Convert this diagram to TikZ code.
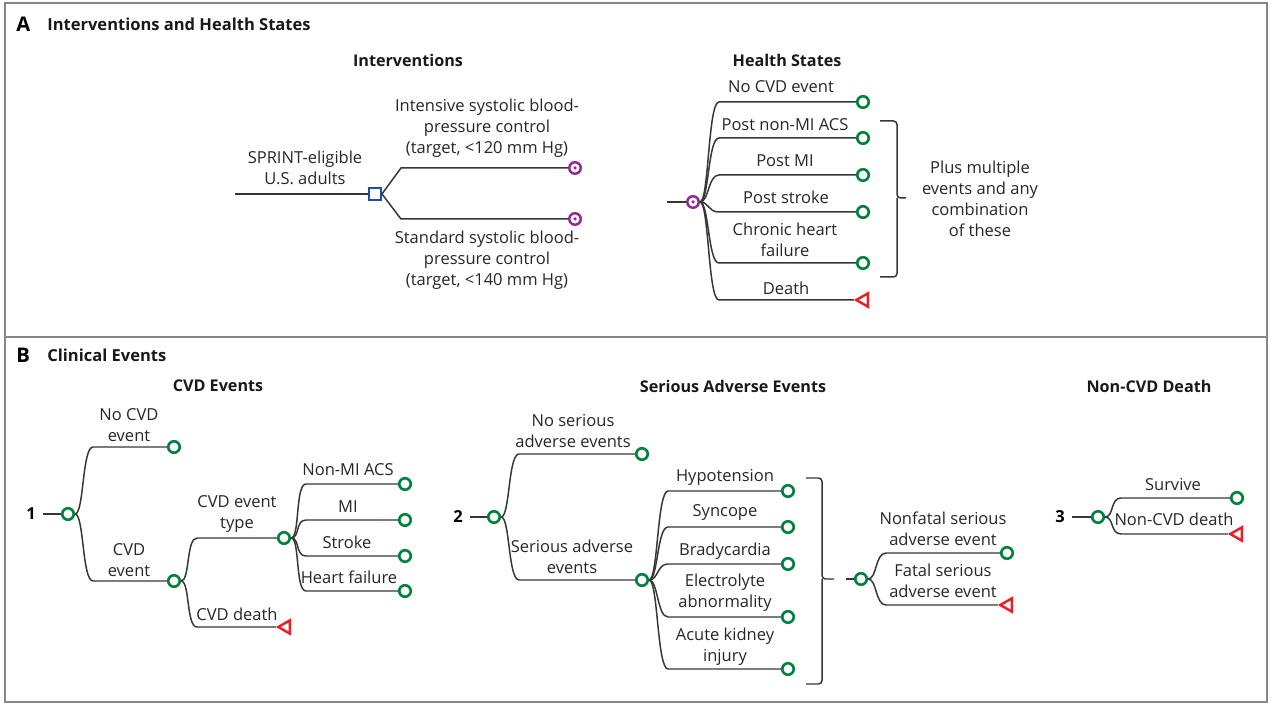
\documentclass[tikz,border=0pt]{standalone}
\usepackage{fontspec}
\setmainfont{Open Sans}
\usetikzlibrary{shapes.geometric, calc}

\definecolor{treeline}{RGB}{55,55,55}
\definecolor{chancegreen}{RGB}{0,130,60}
\definecolor{deathred}{RGB}{235,30,40}
\definecolor{markovpurple}{RGB}{150,40,150}
\definecolor{decisionblue}{RGB}{25,80,165}
\definecolor{framegray}{RGB}{135,135,135}

\tikzstyle{txt} = [inner sep=0pt, align=center, text=black!85, font=\fontsize{9.4}{12}\selectfont]
\tikzstyle{head} = [inner sep=0pt, text=black!90, font=\bfseries\fontsize{9.2}{12}\selectfont]
\tikzstyle{panel} = [inner sep=0pt, anchor=west, text=black!90, font=\bfseries\fontsize{9.4}{12}\selectfont]
\tikzstyle{letter} = [inner sep=0pt, anchor=west, font=\bfseries\fontsize{11.5}{12}\selectfont]
\tikzstyle{num} = [inner sep=4pt, font=\bfseries\fontsize{9.4}{12}\selectfont]
\tikzstyle{chance} = [circle, draw=chancegreen, line width=1.5pt, minimum size=0.23cm, inner sep=0pt]
\tikzstyle{markov} = [circle, draw=markovpurple, line width=1.4pt, minimum size=0.23cm, inner sep=0pt, path picture={\fill[markovpurple] (path picture bounding box.center) circle (1pt);}]
\tikzstyle{decision} = [rectangle, draw=decisionblue, line width=1.4pt, minimum size=0.23cm, inner sep=0pt]
\tikzstyle{death} = [isosceles triangle, isosceles triangle apex angle=60, shape border rotate=180, draw=deathred, line width=1.4pt, minimum height=0.23cm, inner sep=0pt]
\tikzstyle{twig} = [draw=treeline, line width=0.85pt]
\tikzstyle{brace} = [draw=treeline, line width=0.85pt, rounded corners=2pt]
\tikzstyle{frame} = [draw=framegray, line width=1.4pt]
\tikzset{fork/.style={to path={.. controls ($(\tikztostart)+(9,0)$) and ($(\tikztostart |- \tikztotarget)+(#1-11,0)$) .. ($(\tikztostart |- \tikztotarget)+(#1,0)$) -- (\tikztotarget)}}, fork/.default=18}

\begin{document}
\begin{tikzpicture}[x=0.02cm, y=-0.02cm]
  \useasboundingbox (0,0) rectangle (1272,705);
  \draw[frame] (5,3) rectangle (1267,702);
  \draw[frame] (5,337) -- (1267,337);

  % panel A
  \node (lA) [letter] at (16,24) {A};
  \node (tA) [panel] at (47,24) {Interventions and Health States};
  \node (hInt) [head] at (408,60) {Interventions};
  \node (hHS) [head] at (787,60) {Health States};

  \coordinate (sIn) at (235,194);
  \node (dec) [decision] at (375,194) {};
  \node (mInt) [markov] at (575,168) {};
  \node (mStd) [markov] at (575,219) {};
  \node (lSpr) [txt] at (305,168) {SPRINT-eligible\\U.S. adults};
  \node (lInt) [txt] at (487,128) {Intensive systolic blood-\\pressure control\\(target, <120 mm Hg)};
  \node (lStd) [txt] at (487,260) {Standard systolic blood-\\pressure control\\(target, <140 mm Hg)};

  \draw[twig] (sIn) -- (dec);
  \draw[twig] (dec.east) -- ++(19,-26) -- (mInt);
  \draw[twig] (dec.east) -- ++(19,25) -- (mStd);

  \coordinate (hsIn) at (667,202);
  \node (mHS) [markov] at (693,202) {};
  \node (sNo) [chance] at (863,102) {};
  \node (sAcs) [chance] at (863,138) {};
  \node (sMi) [chance] at (863,175) {};
  \node (sStr) [chance] at (863,212) {};
  \node (sHf) [chance] at (863,263) {};
  \node (sDth) [death] at (864,300) {};
  \node (lNo) [txt] at (781,87) {No CVD event};
  \node (lAcs) [txt] at (785,125) {Post non-MI ACS};
  \node (lMi) [txt] at (785,161) {Post MI};
  \node (lStr) [txt] at (786,197) {Post stroke};
  \node (lHf) [txt] at (785,240) {Chronic heart\\failure};
  \node (lDth) [txt] at (786,288) {Death};
  \node (lPlus) [txt] at (980,199) {Plus multiple\\events and any\\combination\\of these};

  \draw[twig] (hsIn) -- (mHS);
  \draw[twig] (mHS.east) to[fork=19] (sNo);
  \draw[twig] (mHS.east) to[fork=19] (sAcs);
  \draw[twig] (mHS.east) to[fork=19] (sMi);
  \draw[twig] (mHS.east) to[fork=19] (sStr);
  \draw[twig] (mHS.east) to[fork=19] (sHf);
  \draw[twig] (mHS.east) to[fork=19] (sDth);
  \draw[brace] (880,121) -| (897,198) -- (906,198);
  \draw[brace] (880,277) -| (897,198);

  % panel B
  \node (lB) [letter] at (16,355) {B};
  \node (tB) [panel] at (47,355) {Clinical Events};
  \node (hCvd) [head] at (218,386) {CVD Events};
  \node (hSae) [head] at (733,386) {Serious Adverse Events};
  \node (hNcd) [head] at (1149,386) {Non-CVD Death};

  % tree 1
  \node (n1) [num] at (31,514) {1};
  \node (cA) [chance] at (68,514) {};
  \node (cNoCvd) [chance] at (174,447) {};
  \node (cCvd) [chance] at (174,581) {};
  \node (cType) [chance] at (284,538) {};
  \node (tCvdD) [death] at (286,627) {};
  \node (cAcs) [chance] at (405,484) {};
  \node (cMi) [chance] at (405,520) {};
  \node (cStr) [chance] at (405,556) {};
  \node (cHf) [chance] at (405,591) {};
  \node (lNoCvd) [txt] at (129,425) {No CVD\\event};
  \node (lCvd) [txt] at (129,560) {CVD\\event};
  \node (lType) [txt] at (237,514) {CVD event\\type};
  \node (lCvdD) [txt] at (237,614) {CVD death};
  \node (lAcsB) [txt] at (348,470) {Non-MI ACS};
  \node (lMiB) [txt] at (348,507) {MI};
  \node (lStrB) [txt] at (347,542) {Stroke};
  \node (lHfB) [txt] at (349,577) {Heart failure};

  \draw[twig] (n1) -- (cA);
  \draw[twig] (cA.east) to[fork] (cNoCvd);
  \draw[twig] (cA.east) to[fork] (cCvd);
  \draw[twig] (cCvd.east) to[fork=16] (cType);
  \draw[twig] (cCvd.east) to[fork=16] (tCvdD);
  \draw[twig] (cType.east) to[fork=15] (cAcs);
  \draw[twig] (cType.east) to[fork=15] (cMi);
  \draw[twig] (cType.east) to[fork=15] (cStr);
  \draw[twig] (cType.east) to[fork=15] (cHf);

  % tree 2
  \node (n2) [num] at (458,517) {2};
  \node (cB) [chance] at (494,517) {};
  \node (cNoSae) [chance] at (642,454) {};
  \node (cSae) [chance] at (642,580) {};
  \node (cHyp) [chance] at (788,491) {};
  \node (cSyn) [chance] at (788,527) {};
  \node (cBra) [chance] at (788,564) {};
  \node (cEle) [chance] at (788,617) {};
  \node (cAki) [chance] at (788,669) {};
  \coordinate (saeIn) at (846,579);
  \node (cSev) [chance] at (861,579) {};
  \node (cNonF) [chance] at (1007,553) {};
  \node (tFatal) [death] at (1008,605) {};
  \node (lNoSae) [txt] at (573,431) {No serious\\adverse events};
  \node (lSae) [txt] at (572,557) {Serious adverse\\events};
  \node (lHyp) [txt] at (725,477) {Hypotension};
  \node (lSyn) [txt] at (725,513) {Syncope};
  \node (lBra) [txt] at (725,551) {Bradycardia};
  \node (lEle) [txt] at (725,593) {Electrolyte\\abnormality};
  \node (lAki) [txt] at (725,647) {Acute kidney\\injury};
  \node (lNonF) [txt] at (943,529) {Nonfatal serious\\adverse event};
  \node (lFatal) [txt] at (943,581) {Fatal serious\\adverse event};

  \draw[twig] (n2) -- (cB);
  \draw[twig] (cB.east) to[fork] (cNoSae);
  \draw[twig] (cB.east) to[fork] (cSae);
  \draw[twig] (cSae.east) to[fork=19] (cHyp);
  \draw[twig] (cSae.east) to[fork=19] (cSyn);
  \draw[twig] (cSae.east) to[fork=19] (cBra);
  \draw[twig] (cSae.east) to[fork=19] (cEle);
  \draw[twig] (cSae.east) to[fork=19] (cAki);
  \draw[brace] (806,478) -| (822,579) -- (834,579);
  \draw[brace] (806,684) -| (822,579);
  \draw[twig] (saeIn) -- (cSev);
  \draw[twig] (cSev.east) to[fork] (cNonF);
  \draw[twig] (cSev.east) to[fork] (tFatal);

  % tree 3
  \node (n3) [num] at (1060,517) {3};
  \node (cC) [chance] at (1098,517) {};
  \node (cSurv) [chance] at (1237,498) {};
  \node (tNcd) [death] at (1238,534) {};
  \node (lSurv) [txt] at (1173,485) {Survive};
  \node (lNcd) [txt] at (1174,519) {Non-CVD death};

  \draw[twig] (n3) -- (cC);
  \draw[twig] (cC.east) to[fork=16] (cSurv);
  \draw[twig] (cC.east) to[fork=16] (tNcd);
\end{tikzpicture}
\end{document}
